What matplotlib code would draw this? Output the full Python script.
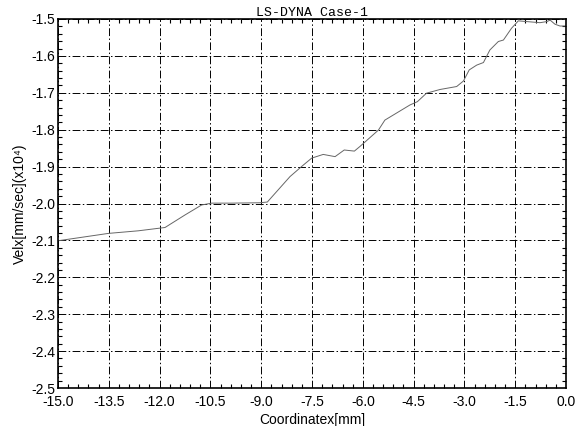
import numpy as np
import matplotlib
matplotlib.use('Agg')
import matplotlib.pyplot as plt
from matplotlib.ticker import MultipleLocator

# coordinate [mm] and velocity (x10^4 mm/sec)
coord = [-15.0, -13.51, -12.63, -11.84, -11.25, -10.76, -10.46, -9.87, -9.04, -8.82,
         -8.15, -7.76, -7.51, -7.17, -6.82, -6.55, -6.25, -6.08, -5.54, -5.35,
         -4.61, -4.39, -4.12, -3.72, -3.23, -3.03, -2.86, -2.64, -2.44, -2.25,
         -2.0, -1.85, -1.61, -1.41, -1.16, -0.77, -0.57, -0.47, -0.33, -0.18, 0.0]
velx = [-2.101, -2.081, -2.074, -2.065, -2.031, -2.004, -1.999, -1.999, -1.998, -1.996,
        -1.927, -1.896, -1.877, -1.867, -1.873, -1.855, -1.858, -1.845, -1.801, -1.774,
        -1.733, -1.724, -1.701, -1.691, -1.683, -1.668, -1.638, -1.625, -1.618, -1.584,
        -1.561, -1.557, -1.525, -1.505, -1.507, -1.510, -1.507, -1.503, -1.514, -1.519, -1.519]

xticks = np.arange(-15.0, 0.01, 1.5)
yticks = np.arange(-2.5, -1.49, 0.1)

plt.rcParams['font.family'] = ['Liberation Sans', 'DejaVu Sans']

fig = plt.figure(figsize=(5.86, 4.26), dpi=100)
ax = fig.add_axes([0.099, 0.0892, 0.867, 0.8662])

ax.plot(coord, velx, color='#666666', lw=0.7)

ax.set_xlim(-15, 0)
ax.set_ylim(-2.5, -1.5)
ax.set_xticks(xticks)
ax.set_yticks(yticks)
ax.set_xticklabels(['%.1f' % v for v in xticks])
ax.set_yticklabels(['%.1f' % v for v in yticks])
ax.xaxis.set_minor_locator(MultipleLocator(0.3))
ax.yaxis.set_minor_locator(MultipleLocator(0.02))
ax.tick_params(which='both', direction='in', top=True, right=True, labelsize=10)
ax.tick_params(axis='x', pad=5)
ax.tick_params(axis='y', pad=2)
ax.tick_params(which='major', length=0)
ax.tick_params(which='minor', length=3, width=0.8)
for s in ax.spines.values():
    s.set_linewidth(1.2)

ax.grid(True, which='major', color='black', lw=0.7, linestyle=(0, (8, 2.5, 1.5, 2.5)))

ax.set_title('LS-DYNA Case-1', family='Liberation Mono', fontsize=9.5, pad=2)
ax.set_xlabel('Coordinatex[mm]', fontsize=10, labelpad=3)
ax.set_ylabel('Velx[mm/sec](x10⁴)', fontsize=10, labelpad=3)

fig.savefig('out.png', dpi=100)
